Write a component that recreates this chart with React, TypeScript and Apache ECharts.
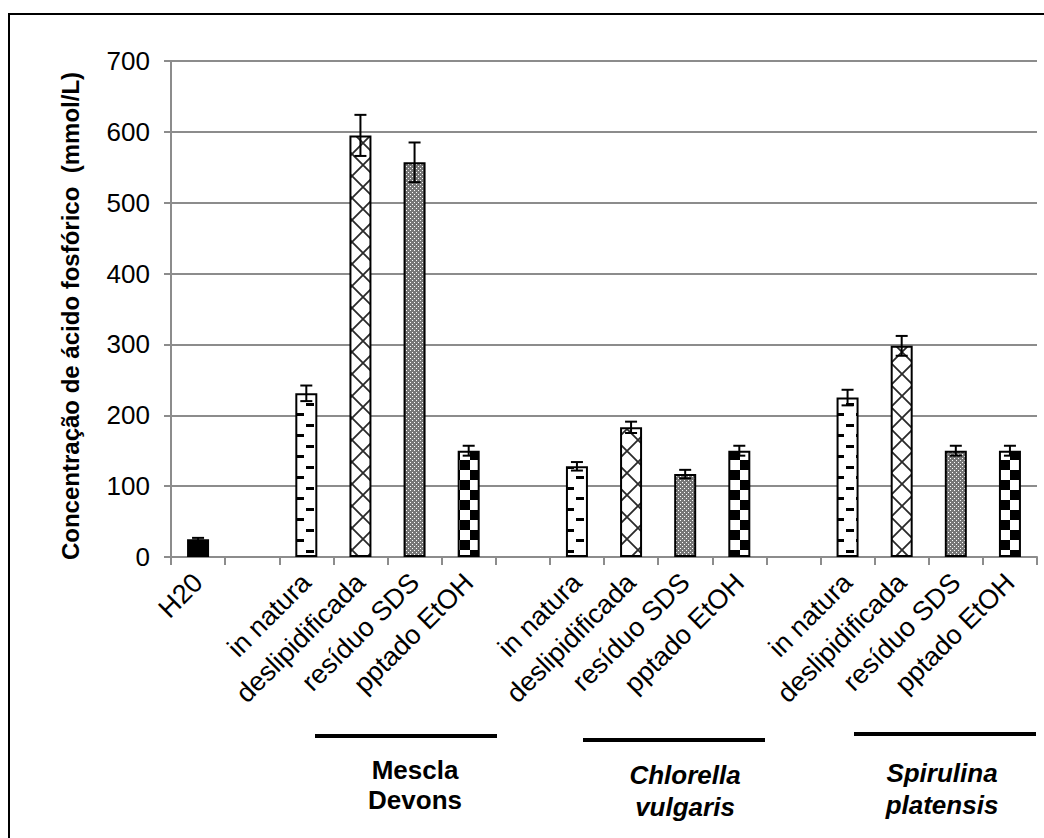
import React, { useEffect, useRef } from 'react';
import * as echarts from 'echarts';

// Treatments applied to each microalga biomass
const treatments = ['in natura', 'deslipidificada', 'resíduo SDS', 'pptado EtOH'];

// Category axis: water control, spacer, then one block per biomass separated by spacers
const categories = ['H20', '', ...treatments, '', ...treatments, '', ...treatments];

// Phosphoric acid concentration (mmol/L) and standard deviations
const waterValue = 25;
const waterError = 2;
const mesclaValues = [231, 595, 557, 150];
const mesclaErrors = [11, 29, 28, 7];
const chlorellaValues = [128, 183, 117, 150];
const chlorellaErrors = [6, 8, 6, 7];
const spirulinaValues = [225, 298, 150, 150];
const spirulinaErrors = [11, 14, 7, 7];

const yMin = 0;
const yMax = 700;
const yStep = 100;

const FONT = '"Liberation Sans", Arial, Helvetica, sans-serif';
const GRID_GRAY = '#8c8c8c';

function makeTile(w: number, h: number, draw: (ctx: CanvasRenderingContext2D) => void) {
  const c = document.createElement('canvas');
  c.width = w;
  c.height = h;
  const ctx = c.getContext('2d') as CanvasRenderingContext2D;
  draw(ctx);
  return c;
}

function buildPatterns() {
  // staggered short dashes
  const dashes = makeTile(20, 21, (ctx) => {
    ctx.fillStyle = '#fff';
    ctx.fillRect(0, 0, 20, 21);
    ctx.fillStyle = '#000';
    ctx.fillRect(6, 4, 8, 3);
    ctx.fillRect(16, 14, 4, 3);
    ctx.fillRect(0, 14, 4, 3);
  });
  // diagonal cross-hatch
  const hatch = makeTile(22, 22, (ctx) => {
    ctx.fillStyle = '#fff';
    ctx.fillRect(0, 0, 22, 22);
    ctx.strokeStyle = '#2a2a2a';
    ctx.lineWidth = 1.8;
    ctx.beginPath();
    ctx.moveTo(-3, -3);
    ctx.lineTo(25, 25);
    ctx.moveTo(25, -3);
    ctx.lineTo(-3, 25);
    ctx.stroke();
  });
  // fine dotted grey
  const dots = makeTile(4, 4, (ctx) => {
    ctx.fillStyle = '#767676';
    ctx.fillRect(0, 0, 4, 4);
    ctx.fillStyle = '#ffffff';
    ctx.fillRect(0, 0, 1, 1);
    ctx.fillRect(2, 2, 1, 1);
  });
  // large checkerboard
  const checker = makeTile(20, 20, (ctx) => {
    ctx.fillStyle = '#fff';
    ctx.fillRect(0, 0, 20, 20);
    ctx.fillStyle = '#000';
    ctx.fillRect(0, 0, 10, 10);
    ctx.fillRect(10, 10, 10, 10);
  });
  return [dashes, hatch, dots, checker].map((image) => ({ image, repeat: 'repeat' }));
}

export default function App() {
  const ref = useRef<HTMLDivElement>(null);

  useEffect(() => {
    if (!ref.current) return;
    const chart = echarts.init(ref.current, undefined, { renderer: 'svg' });
    const patterns = buildPatterns();

    const barData: any[] = [];
    const errorData: any[] = [];
    const pushItem = (value: number | null, err: number | null, color: any) => {
      const idx = barData.length;
      if (value === null) {
        barData.push(null);
        return;
      }
      barData.push({ value, itemStyle: { color } });
      errorData.push([idx, value, err]);
    };

    pushItem(waterValue, waterError, '#000');
    [
      [mesclaValues, mesclaErrors],
      [chlorellaValues, chlorellaErrors],
      [spirulinaValues, spirulinaErrors],
    ].forEach(([vals, errs]) => {
      pushItem(null, null, null);
      vals.forEach((v, i) => pushItem(v, errs[i], patterns[i]));
    });

    const axisLineStyle = { color: GRID_GRAY, width: 2 };
    const errStyle = { stroke: '#000', lineWidth: 2 };

    const option: any = {
      animation: false,
      backgroundColor: '#fff',
      textStyle: { fontFamily: FONT },
      grid: { left: 171, top: 61, width: 866, height: 496, containLabel: false, outerBoundsMode: 'none' },
      xAxis: {
        type: 'category',
        data: categories,
        axisLine: { lineStyle: axisLineStyle },
        axisTick: { show: true, interval: 0, length: 8, lineStyle: axisLineStyle },
        axisLabel: { interval: 0, rotate: 45, fontSize: 27, color: '#000', fontFamily: FONT, margin: 21 },
        splitLine: { show: false },
      },
      yAxis: {
        type: 'value',
        min: yMin,
        max: yMax,
        interval: yStep,
        axisLine: { show: true, lineStyle: axisLineStyle },
        axisTick: { show: true, length: 7, lineStyle: axisLineStyle },
        axisLabel: { fontSize: 26, color: '#000', fontFamily: FONT, margin: 21 },
        splitLine: { show: true, lineStyle: axisLineStyle },
      },
      series: [
        {
          type: 'bar',
          data: barData,
          barWidth: 22,
          itemStyle: { borderColor: '#000', borderWidth: 2 },
        },
        {
          type: 'custom',
          data: errorData,
          z: 5,
          encode: { x: 0, y: 1 },
          renderItem: (params: any, api: any) => {
            const x = api.value(0);
            const v = api.value(1);
            const e = api.value(2);
            const top = api.coord([x, v + e]);
            const bot = api.coord([x, v - e]);
            const half = 6;
            return {
              type: 'group',
              children: [
                { type: 'line', shape: { x1: top[0], y1: top[1], x2: bot[0], y2: bot[1] }, style: errStyle },
                { type: 'line', shape: { x1: top[0] - half, y1: top[1], x2: top[0] + half, y2: top[1] }, style: errStyle },
                { type: 'line', shape: { x1: bot[0] - half, y1: bot[1], x2: bot[0] + half, y2: bot[1] }, style: errStyle },
              ],
            };
          },
        },
      ],
      graphic: [
        {
          type: 'rect',
          shape: { x: 9, y: 14, width: 1100, height: 900 },
          style: { fill: 'none', stroke: '#000', lineWidth: 2 },
          silent: true,
        },
        {
          type: 'text',
          x: 70,
          y: 316,
          rotation: Math.PI / 2,
          style: {
            text: 'Concentração de ácido fosfórico  (mmol/L)',
            font: `bold 24px ${FONT}`,
            fill: '#000',
            textAlign: 'center',
            textVerticalAlign: 'middle',
          },
        },
        { type: 'line', shape: { x1: 315, y1: 736, x2: 497, y2: 736 }, style: { stroke: '#000', lineWidth: 4 } },
        { type: 'line', shape: { x1: 583, y1: 740, x2: 765, y2: 740 }, style: { stroke: '#000', lineWidth: 4 } },
        { type: 'line', shape: { x1: 854, y1: 734, x2: 1036, y2: 734 }, style: { stroke: '#000', lineWidth: 4 } },
        {
          type: 'text',
          x: 415,
          y: 785,
          style: {
            text: 'Mescla\nDevons',
            font: `bold 26px ${FONT}`,
            lineHeight: 30,
            fill: '#000',
            textAlign: 'center',
            textVerticalAlign: 'middle',
          },
        },
        {
          type: 'text',
          x: 685,
          y: 791,
          style: {
            text: 'Chlorella\nvulgaris',
            font: `italic bold 26px ${FONT}`,
            lineHeight: 32,
            fill: '#000',
            textAlign: 'center',
            textVerticalAlign: 'middle',
          },
        },
        {
          type: 'text',
          x: 942,
          y: 789,
          style: {
            text: 'Spirulina\nplatensis',
            font: `italic bold 26px ${FONT}`,
            lineHeight: 32,
            fill: '#000',
            textAlign: 'center',
            textVerticalAlign: 'middle',
          },
        },
      ],
    };

    chart.setOption(option);
    return () => chart.dispose();
  }, []);

  return (
    <div
      ref={ref}
      style={{ position: 'absolute', left: 0, top: 0, width: 1044, height: 838, background: '#fff' }}
    />
  );
}
